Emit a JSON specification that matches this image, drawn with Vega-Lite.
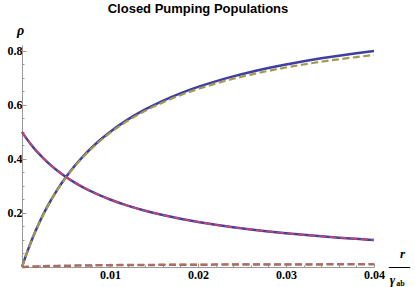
{
  "$schema": "https://vega.github.io/schema/vega-lite/v6.json",
  "width": 352,
  "height": 222,
  "autosize": "none",
  "padding": {"left": 22, "top": 45, "right": 41, "bottom": 20},
  "background": "white",
  "title": {"text": "Closed Pumping Populations", "font": "Liberation Sans", "fontWeight": "bold", "fontSize": 13, "color": "black", "anchor": "middle", "offset": 7},
  "config": {
    "view": {"stroke": null},
    "axis": {"grid": false, "labelFont": "Liberation Serif", "labelFontWeight": "bold", "labelFontSize": 12, "labelColor": "black", "tickColor": "#999999", "domainColor": "#999999", "titleColor": "black", "titleFont": "Liberation Serif", "titleFontWeight": "bold"}
  },
  "data": {"values": [
    {"x": 0, "a": 0, "b": 0.5, "c": 0, "d": 0.5, "e": 0, "f": 0},
    {"x": 0.0005, "a": 0.0476, "b": 0.4762, "c": 0.0474, "d": 0.4762, "e": 0.0007, "f": 0.0008},
    {"x": 0.001, "a": 0.0909, "b": 0.4545, "c": 0.0905, "d": 0.4545, "e": 0.0013, "f": 0.0015},
    {"x": 0.0015, "a": 0.1304, "b": 0.4348, "c": 0.1298, "d": 0.4348, "e": 0.0019, "f": 0.0022},
    {"x": 0.002, "a": 0.1667, "b": 0.4167, "c": 0.1659, "d": 0.4167, "e": 0.0024, "f": 0.0028},
    {"x": 0.003, "a": 0.2308, "b": 0.3846, "c": 0.2297, "d": 0.3846, "e": 0.0033, "f": 0.0038},
    {"x": 0.004, "a": 0.2857, "b": 0.3571, "c": 0.2842, "d": 0.3571, "e": 0.004, "f": 0.0046},
    {"x": 0.005, "a": 0.3333, "b": 0.3333, "c": 0.3314, "d": 0.3333, "e": 0.0046, "f": 0.0053},
    {"x": 0.006, "a": 0.375, "b": 0.3125, "c": 0.3728, "d": 0.3125, "e": 0.0051, "f": 0.0059},
    {"x": 0.007, "a": 0.4118, "b": 0.2941, "c": 0.4092, "d": 0.2941, "e": 0.0056, "f": 0.0064},
    {"x": 0.008, "a": 0.4444, "b": 0.2778, "c": 0.4414, "d": 0.2778, "e": 0.006, "f": 0.0069},
    {"x": 0.009, "a": 0.4737, "b": 0.2632, "c": 0.4703, "d": 0.2632, "e": 0.0064, "f": 0.0073},
    {"x": 0.01, "a": 0.5, "b": 0.25, "c": 0.4963, "d": 0.25, "e": 0.0067, "f": 0.0077},
    {"x": 0.012, "a": 0.5455, "b": 0.2273, "c": 0.541, "d": 0.2273, "e": 0.0072, "f": 0.0083},
    {"x": 0.014, "a": 0.5833, "b": 0.2083, "c": 0.5781, "d": 0.2083, "e": 0.0076, "f": 0.0088},
    {"x": 0.016, "a": 0.6154, "b": 0.1923, "c": 0.6094, "d": 0.1923, "e": 0.008, "f": 0.0092},
    {"x": 0.018, "a": 0.6429, "b": 0.1786, "c": 0.6361, "d": 0.1786, "e": 0.0083, "f": 0.0096},
    {"x": 0.02, "a": 0.6667, "b": 0.1667, "c": 0.6592, "d": 0.1667, "e": 0.0086, "f": 0.0099},
    {"x": 0.022, "a": 0.6875, "b": 0.1563, "c": 0.6793, "d": 0.1563, "e": 0.0088, "f": 0.0101},
    {"x": 0.024, "a": 0.7059, "b": 0.1471, "c": 0.6969, "d": 0.1471, "e": 0.009, "f": 0.0104},
    {"x": 0.026, "a": 0.7222, "b": 0.1389, "c": 0.7125, "d": 0.1389, "e": 0.0092, "f": 0.0106},
    {"x": 0.028, "a": 0.7368, "b": 0.1316, "c": 0.7263, "d": 0.1316, "e": 0.0093, "f": 0.0107},
    {"x": 0.03, "a": 0.75, "b": 0.125, "c": 0.7388, "d": 0.125, "e": 0.0095, "f": 0.0109},
    {"x": 0.032, "a": 0.7619, "b": 0.119, "c": 0.7499, "d": 0.119, "e": 0.0096, "f": 0.011},
    {"x": 0.034, "a": 0.7727, "b": 0.1136, "c": 0.76, "d": 0.1136, "e": 0.0097, "f": 0.0112},
    {"x": 0.036, "a": 0.7826, "b": 0.1087, "c": 0.7691, "d": 0.1087, "e": 0.0098, "f": 0.0113},
    {"x": 0.038, "a": 0.7917, "b": 0.1042, "c": 0.7774, "d": 0.1042, "e": 0.0099, "f": 0.0114},
    {"x": 0.04, "a": 0.8, "b": 0.1, "c": 0.785, "d": 0.1, "e": 0.01, "f": 0.0115}
  ]},
  "layer": [
    {
      "mark": {"type": "line", "color": "#3F3FA2", "strokeWidth": 2.5, "interpolate": "monotone"},
      "encoding": {
        "x": {"field": "x", "type": "quantitative", "scale": {"domain": [0, 0.04], "nice": false, "zero": false},
          "axis": {"orient": "bottom", "values": [0.01, 0.02, 0.03, 0.04], "format": ".2f", "labelPadding": 6, "tickSize": -4, "labelFlush": false,
            "title": "r", "titleFontStyle": "italic", "titleFontSize": 13, "titleX": 380, "titleY": -10, "titleAlign": "center", "titleBaseline": "alphabetic"}},
        "y": {"field": "a", "type": "quantitative", "scale": {"domain": [0, 0.822], "nice": false},
          "axis": {"orient": "left", "values": [0.2, 0.4, 0.6, 0.8], "format": ".1f", "labelPadding": 4, "tickSize": -4, "labelFlush": false,
            "title": "ρ", "titleFontStyle": "italic", "titleFontSize": 14, "titleAngle": 0, "titleX": -2, "titleY": -11, "titleAlign": "center", "titleBaseline": "alphabetic"}}
      }
    },
    {
      "mark": {"type": "line", "color": "#3F3FA2", "strokeWidth": 2.5, "interpolate": "monotone"},
      "encoding": {
        "x": {"field": "x", "type": "quantitative",
          "axis": {"orient": "bottom", "values": [0.002, 0.004, 0.006, 0.008, 0.012, 0.014, 0.016, 0.018, 0.022, 0.024, 0.026, 0.028, 0.032, 0.034, 0.036, 0.038], "labels": false, "domain": false, "tickSize": -2,
            "title": "γ", "titleFontStyle": "italic", "titleFontSize": 13, "titleX": 370, "titleY": 16, "titleAlign": "center", "titleBaseline": "alphabetic"}},
        "y": {"field": "b", "type": "quantitative",
          "axis": {"orient": "left", "values": [0.05, 0.1, 0.15, 0.25, 0.3, 0.35, 0.45, 0.5, 0.55, 0.65, 0.7, 0.75], "labels": false, "domain": false, "tickSize": -2,
            "title": "ab", "titleFontSize": 8, "titleAngle": 0, "titleX": 378, "titleY": 240, "titleAlign": "center", "titleBaseline": "alphabetic"}}
      }
    },
    {
      "mark": {"type": "line", "color": "#A39A4C", "strokeWidth": 2.2, "strokeDash": [7, 3.5], "interpolate": "monotone"},
      "encoding": {
        "x": {"field": "x", "type": "quantitative",
          "axis": {"orient": "bottom", "labels": false, "domain": false, "ticks": false,
            "title": "—", "titleFontWeight": "normal", "titleFontSize": 21, "titleX": 377, "titleY": 5, "titleAlign": "center", "titleBaseline": "alphabetic"}},
        "y": {"field": "c", "type": "quantitative", "axis": null}
      }
    },
    {
      "mark": {"type": "line", "color": "#C4466F", "strokeWidth": 1.8, "strokeDash": [7, 3.5], "interpolate": "monotone"},
      "encoding": {
        "x": {"field": "x", "type": "quantitative", "axis": null},
        "y": {"field": "d", "type": "quantitative", "axis": null}
      }
    },
    {
      "mark": {"type": "line", "color": "#A0703E", "strokeWidth": 2.5, "strokeDash": [7, 3.5], "interpolate": "monotone"},
      "encoding": {
        "x": {"field": "x", "type": "quantitative", "axis": null},
        "y": {"field": "e", "type": "quantitative", "axis": null}
      }
    },
    {
      "mark": {"type": "line", "color": "#B2688E", "strokeWidth": 1.2, "strokeDash": [7, 3.5], "interpolate": "monotone"},
      "encoding": {
        "x": {"field": "x", "type": "quantitative", "axis": null},
        "y": {"field": "f", "type": "quantitative", "axis": null}
      }
    }
  ],
  "resolve": {"axis": {"x": "independent", "y": "independent"}}
}
